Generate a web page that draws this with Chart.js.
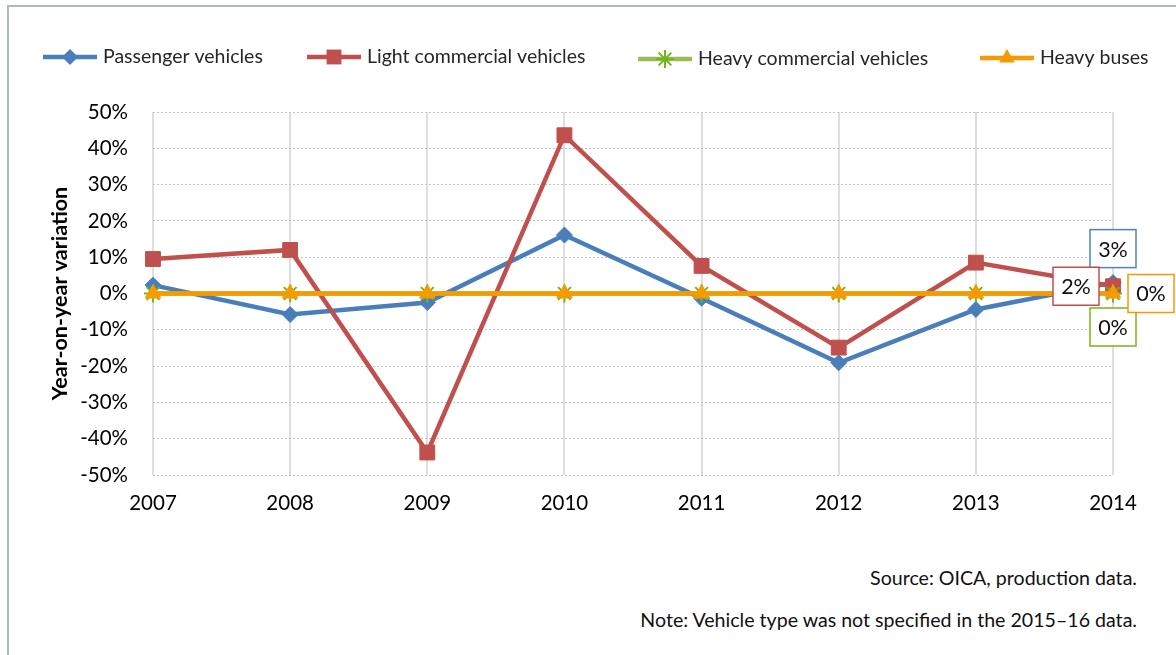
<!DOCTYPE html>
<html>
<head>
<meta charset="utf-8">
<script src="https://cdn.jsdelivr.net/npm/chart.js@4.4.1/dist/chart.umd.min.js"></script>
<style>
  html, body { margin: 0; padding: 0; background: #fff; }
  #page { position: relative; width: 1176px; height: 655px; overflow: hidden; font-family: Lato, "Open Sans", sans-serif; }
  #frame { position: absolute; left: 7px; top: 5px; width: 1200px; height: 700px; border-top: 2px solid #a9bdba; border-left: 2px solid #a9bdba; }
  #wrap { position: absolute; left: 0; top: 0; width: 1176px; height: 545px; }
  .note { position: absolute; right: 39px; font-size: 19.6px; line-height: 22px; color: #111; white-space: nowrap; }
</style>
</head>
<body>
<div id="page">
  <div id="frame"></div>
  <div id="wrap"><canvas id="chart"></canvas></div>
  <div class="note" style="top:567px">Source: OICA, production data.</div>
  <div class="note" style="top:609px">Note: Vehicle type was not specified in the 2015–16 data.</div>
</div>
<script>
// Year-on-year change in vehicle production, by vehicle type (%)
const years = ['2007', '2008', '2009', '2010', '2011', '2012', '2013', '2014'];
const passengerVehicles = [2.3, -5.8, -2.5, 16.1, -1.3, -19.1, -4.4, 3];
const lightCommercialVehicles = [9.5, 12.0, -43.8, 43.6, 7.6, -14.9, 8.5, 2];
const heavyCommercialVehicles = [0, 0, 0, 0, 0, 0, 0, 0];
const heavyBuses = [0, 0, 0, 0, 0, 0, 0, 0];
const yTickValues = [-50, -40, -30, -20, -10, 0, 10, 20, 30, 40, 50];
const seriesNames = ['Passenger vehicles', 'Light commercial vehicles', 'Heavy commercial vehicles', 'Heavy buses'];

const FONT = 'Lato, "Open Sans", sans-serif';

function series(label, data, color, marker, style, radius, order) {
  return {
    label, data, order,
    borderColor: color,
    borderWidth: 4.5,
    tension: 0,
    fill: false,
    pointStyle: style,
    pointRadius: radius,
    pointHoverRadius: radius,
    pointBackgroundColor: marker,
    pointBorderColor: marker,
    pointBorderWidth: style === 'star' ? 2 : 1
  };
}

// Line + marker legend across the top
function drawMarker(ctx, style, x, y, r) {
  ctx.beginPath();
  if (style === 'rectRot') {
    ctx.moveTo(x, y - r); ctx.lineTo(x + r, y); ctx.lineTo(x, y + r); ctx.lineTo(x - r, y); ctx.closePath(); ctx.fill();
  } else if (style === 'rect') {
    const h = r * Math.SQRT1_2; ctx.rect(x - h, y - h, 2 * h, 2 * h); ctx.fill();
  } else if (style === 'triangle') {
    ctx.moveTo(x, y - r); ctx.lineTo(x + r * 0.866, y + r / 2); ctx.lineTo(x - r * 0.866, y + r / 2); ctx.closePath(); ctx.fill();
  } else if (style === 'star') {
    const d = r * Math.SQRT1_2;
    ctx.moveTo(x - d, y - d); ctx.lineTo(x + d, y + d);
    ctx.moveTo(x - d, y + d); ctx.lineTo(x + d, y - d);
    ctx.moveTo(x, y - r); ctx.lineTo(x, y + r);
    ctx.moveTo(x - r, y); ctx.lineTo(x + r, y);
    ctx.lineWidth = 2; ctx.stroke();
  }
}

const lineLegend = {
  id: 'lineLegend',
  afterDraw(chart, args, opts) {
    const ctx = chart.ctx;
    ctx.save();
    chart.data.datasets.forEach((ds, i) => {
      const x = opts.slots[i], y = opts.rows[i];
      ctx.strokeStyle = ds.borderColor;
      ctx.lineWidth = ds.borderWidth;
      ctx.beginPath(); ctx.moveTo(x, y); ctx.lineTo(x + opts.lineLength, y); ctx.stroke();
      ctx.fillStyle = ds.pointBackgroundColor;
      ctx.strokeStyle = ds.pointBorderColor;
      drawMarker(ctx, ds.pointStyle, x + opts.lineLength / 2, y, ds.pointRadius);
      ctx.fillStyle = opts.color;
      ctx.font = opts.font;
      ctx.textBaseline = 'middle';
      ctx.textAlign = 'left';
      ctx.fillText(ds.label, x + opts.lineLength + opts.gap, y);
    });
    ctx.restore();
  }
};

// Boxed value labels on the final year of each series
const endLabels = {
  id: 'endLabels',
  afterDatasetsDraw(chart, args, opts) {
    const ctx = chart.ctx;
    ctx.save();
    chart.data.datasets.forEach((ds, i) => {
      const meta = chart.getDatasetMeta(i);
      const last = meta.data.length - 1;
      const pt = meta.data[last];
      const [dx, dy] = opts.offsets[i];
      const cx = pt.x + dx, cy = pt.y + dy;
      const w = opts.boxWidth, h = opts.boxHeight;
      ctx.fillStyle = '#ffffff';
      ctx.fillRect(cx - w / 2, cy - h / 2, w, h);
      ctx.strokeStyle = opts.borders[i];
      ctx.lineWidth = 1.5;
      ctx.strokeRect(cx - w / 2, cy - h / 2, w, h);
      ctx.fillStyle = '#111';
      ctx.font = opts.font;
      ctx.textAlign = 'center';
      ctx.textBaseline = 'middle';
      ctx.fillText(Math.round(ds.data[last]) + '%', cx, cy + 1);
    });
    ctx.restore();
  }
};

new Chart(document.getElementById('chart'), {
  type: 'line',
  data: {
    labels: years,
    datasets: [
      series(seriesNames[0], passengerVehicles, '#4a7ebb', '#4a7ebb', 'rectRot', 8, 3),
      series(seriesNames[1], lightCommercialVehicles, '#c0504d', '#c0504d', 'rect', 10.5, 2),
      series(seriesNames[2], heavyCommercialVehicles, '#9bbb59', '#72b51c', 'star', 9, 1),
      series(seriesNames[3], heavyBuses, '#f59b00', '#f59b00', 'triangle', 9, 0)
    ]
  },
  options: {
    responsive: true,
    maintainAspectRatio: false,
    animation: false,
    layout: { padding: { left: 0, right: 63, top: 112, bottom: 0 } },
    plugins: {
      legend: { display: false },
      tooltip: { enabled: false },
      lineLegend: {
        slots: [43, 307, 638, 980],
        rows: [57, 57, 59, 58],
        lineLength: 54,
        gap: 6,
        font: '19.5px ' + FONT,
        color: '#262626'
      },
      endLabels: {
        offsets: [[0, -34], [-37, 0], [0, 33.5], [38, 0]],
        borders: ['#4f81bd', '#c0504d', '#7ab317', '#f59b00'],
        boxWidth: 46,
        boxHeight: 38,
        font: '21.5px ' + FONT
      }
    },
    scales: {
      x: {
        type: 'category',
        offset: false,
        grid: { color: '#dedede', lineWidth: 2, drawTicks: false },
        border: { display: false },
        ticks: { color: '#000', font: { family: FONT, size: 20.5 }, padding: 16, maxRotation: 0 },
        afterFit: s => { s.height = 70; }
      },
      y: {
        min: -50,
        max: 50,
        afterBuildTicks: s => { s.ticks = yTickValues.map(v => ({ value: v })); },
        grid: { color: '#c4c4c4', lineWidth: 1, drawTicks: false },
        border: { display: false, dash: [2, 2] },
        ticks: { color: '#000', font: { family: FONT, size: 20.5 }, padding: 25, callback: v => v + '%' },
        title: {
          display: true,
          text: 'Year-on-year variation',
          color: '#000',
          font: { family: 'Lato, "Open Sans", sans-serif', size: 21.5, weight: 'bold' },
          padding: { top: 47, bottom: 0 }
        },
        afterFit: s => { s.width = 153; }
      }
    }
  },
  plugins: [lineLegend, endLabels]
});
</script>
</body>
</html>
